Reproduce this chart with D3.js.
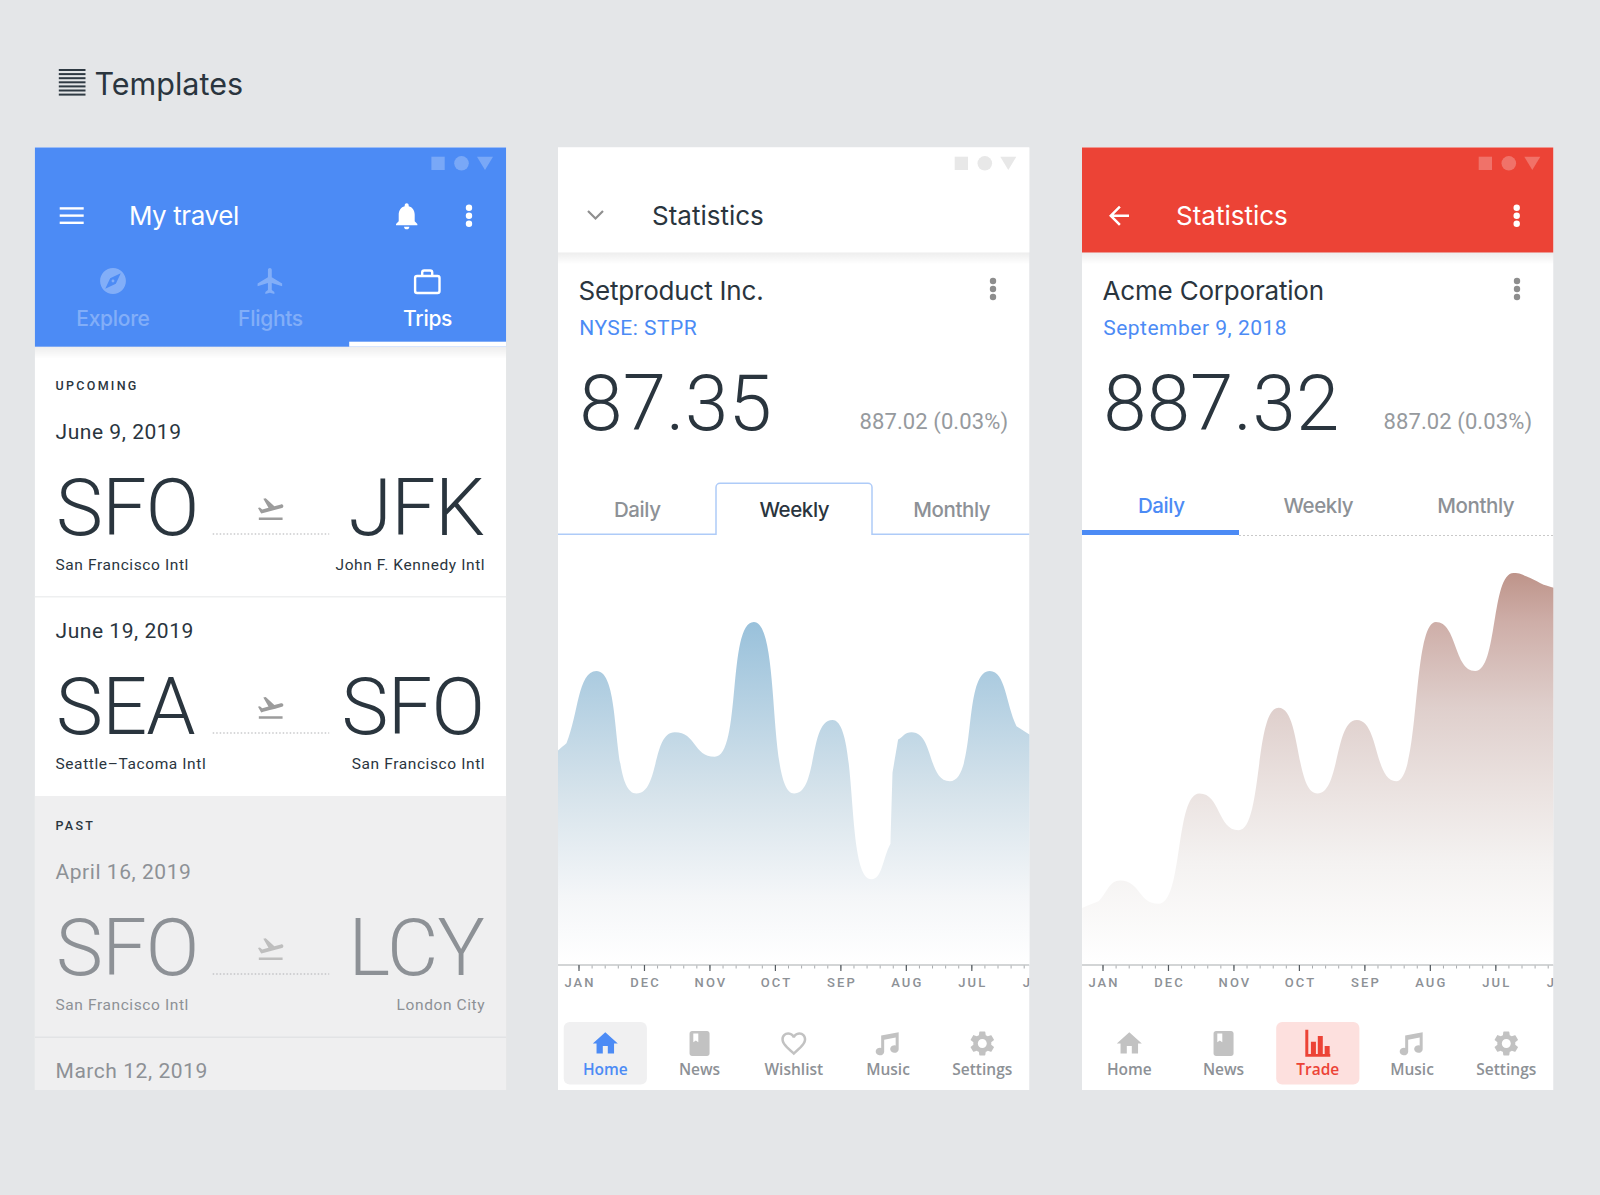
<!DOCTYPE html>
<html>
<head>
<meta charset="utf-8">
<script src="https://cdn.jsdelivr.net/npm/d3@7"></script>
<style>
  html, body { margin: 0; background: #e4e6e8; }
  svg { display: block; }
</style>
</head>
<body>
<div id="chart"></div>
<script>
const BLUE = "#4c8bf5";
const RED = "#ec4336";
const DARK = "#2a353e";
const GREY = "#8d9196";
const ICON_GREY = "#c2c2c2";
const HEAD = "Inter, sans-serif";
const BODY = "Roboto, sans-serif";
const NAV = "'Open Sans', sans-serif";

const months = ["JAN", "DEC", "NOV", "OCT", "SEP", "AUG", "JUL", "JUN"];

// position on the month axis (0 = JAN tick), value in chart units
const weeklyAt = [-0.316, -0.184, 0.274, 0.885, 1.471, 2.082, 2.678, 3.294, 3.879, 4.475, 4.765, 4.796, 4.882, 5.086, 5.671, 6.282, 6.69, 6.894];
const weeklyValues = [17.5, 18.1, 24, 14, 19, 17, 28, 14, 20, 7, 9.9, 15.7, 18.4, 19, 15, 24, 19.5, 18.8];
const dailyAt = [-0.31, -0.061, 0.27, 0.856, 1.482, 2.078, 2.689, 3.284, 3.885, 4.486, 5.092, 5.693, 6.279, 6.534, 6.738, 6.891];
const dailyValues = [4.66, 5.2, 6.9, 5, 14, 11, 21, 14, 20, 15, 28, 24, 32, 31.6, 31.05, 30.8];

const upcoming = [
    { date: "June 9, 2019", from: "SFO", to: "JFK", fromName: "San Francisco Intl", toName: "John F. Kennedy Intl" },
    { date: "June 19, 2019", from: "SEA", to: "SFO", fromName: "Seattle\u2013Tacoma Intl", toName: "San Francisco Intl" }
];
const past = { date: "April 16, 2019", from: "SFO", to: "LCY", fromName: "San Francisco Intl", toName: "London City" };

const icons = {
    bell: "M12 22c1.1 0 2-.9 2-2h-4c0 1.1.89 2 2 2zm6-6v-5c0-3.07-1.64-5.64-4.5-6.32V4c0-.83-.67-1.5-1.5-1.5s-1.5.67-1.5 1.5v.68C7.63 5.36 6 7.92 6 11v5l-2 2v1h16v-1l-2-2z",
    explore: "M12 10.9c-.61 0-1.1.49-1.1 1.1s.49 1.1 1.1 1.1c.61 0 1.1-.49 1.1-1.1s-.49-1.1-1.1-1.1zM12 2C6.48 2 2 6.48 2 12s4.48 10 10 10 10-4.48 10-10S17.52 2 12 2zm2.19 12.19L6 18l3.81-8.19L18 6l-3.81 8.19z",
    flight: "M21 16v-2l-8-5V3.5c0-.83-.67-1.5-1.5-1.5S10 2.67 10 3.5V9l-8 5v2l8-2.5V19l-2 1.5V22l3.5-1 3.5 1v-1.5L13 19v-5.5l8 2.5z",
    takeoff: "M2.5 19h19v2h-19zm19.57-9.36c-.21-.8-1.04-1.28-1.84-1.06L14.92 10l-6.9-6.43-1.93.51 4.14 7.17-4.97 1.33-1.97-1.54-1.45.39 1.82 3.16.77 1.33 1.6-.43 5.31-1.42 4.35-1.16L21 11.49c.81-.23 1.28-1.05 1.07-1.85z",
    home: "M10 20v-6h4v6h5v-8h3L12 3 2 12h3v8z",
    book: "M18 2H6c-1.1 0-2 .9-2 2v16c0 1.1.9 2 2 2h12c1.1 0 2-.9 2-2V4c0-1.1-.9-2-2-2zM7 4h4v7l-2-1.5L7 11V4z",
    heart: "M16.5 3c-1.74 0-3.41.81-4.5 2.09C10.91 3.81 9.24 3 7.5 3 4.42 3 2 5.42 2 8.5c0 3.78 3.4 6.86 8.55 11.54L12 21.35l1.45-1.32C18.6 15.36 22 12.28 22 8.5 22 5.42 19.58 3 16.5 3zm-4.4 15.55l-.1.1-.1-.1C7.14 14.24 4 11.39 4 8.5 4 6.5 5.5 5 7.5 5c1.54 0 3.04.99 3.57 2.36h1.87C13.46 5.99 14.96 5 16.5 5c2 0 3.5 1.5 3.5 3.5 0 2.89-3.14 5.74-7.9 10.05z",
    music: "M6.5 5.5 L20.5 3 V16.5 a3.4 3 0 1 1 -2.4 -2.9 V7.2 L8.9 8.9 V18.5 a3.4 3 0 1 1 -2.4 -2.9 Z",
    gear: "M19.14 12.94c.04-.3.06-.61.06-.94 0-.32-.02-.64-.07-.94l2.03-1.58c.18-.14.23-.41.12-.61l-1.92-3.32c-.12-.22-.37-.29-.59-.22l-2.39.96c-.5-.38-1.03-.7-1.62-.94L14.4 2.81c-.04-.24-.24-.41-.48-.41h-3.84c-.24 0-.43.17-.47.41L9.25 5.35c-.59.24-1.13.57-1.62.94l-2.39-.96c-.22-.08-.47 0-.59.22L2.74 8.87c-.12.21-.08.47.12.61l2.03 1.58c-.05.3-.09.63-.09.94s.02.64.07.94l-2.03 1.58c-.18.14-.23.41-.12.61l1.92 3.32c.12.22.37.29.59.22l2.39-.96c.5.38 1.03.7 1.62.94l.36 2.54c.05.24.24.41.48.41h3.84c.24 0 .44-.17.47-.41l.36-2.54c.59-.24 1.13-.56 1.62-.94l2.39.96c.22.08.47 0 .59-.22l1.92-3.32c.12-.22.07-.47-.12-.61l-2.01-1.58zM12 15.6c-1.98 0-3.6-1.62-3.6-3.6s1.62-3.6 3.6-3.6 3.6 1.62 3.6 3.6-1.62 3.6-3.6 3.6z",
    bars: "M2 1h2.4v19.4H22v2.2H2z M6.5 10.5h4v10h-4z M12 6h4v14.5h-4z M17.5 14h4v6.5h-4z",
    back: "M20 11H7.83l5.59-5.59L12 4l-8 8 8 8 1.41-1.41L7.83 13H20v-2z"
};

const W = 1600, H = 1195;
const panelW = 471.5, panelTop = 147.3, panelBottom = 1090;
const panelX = [34.7, 558, 1082];

let svg = d3.select("#chart").append("svg").attr("width", W).attr("height", H);
svg.append("rect").attr("width", W).attr("height", H).attr("fill", "#e4e6e8");
let defs = svg.append("defs");

function gradient(id, stops) {
    let g = defs.append("linearGradient").attr("id", id)
        .attr("x1", 0).attr("x2", 0).attr("y1", 0).attr("y2", 1);
    stops.forEach(s => g.append("stop").attr("offset", s[0]).attr("stop-color", s[1]).attr("stop-opacity", s[2] === undefined ? 1 : s[2]));
}
gradient("shadow", [[0, "#000", 0.07], [1, "#000", 0]]);
gradient("blueFade", [[0, "#99c1db"], [0.5, "#d6e3eb"], [0.8, "#f4f6f8"], [1, "#ffffff"]]);
gradient("redFade", [[0, "#be948a"], [0.126, "#ceaea8"], [0.343, "#dfcfcc"], [0.56, "#ebe3e1"], [0.74, "#f4f2f1"], [1, "#ffffff"]]);

function label(g, x, y, str, o) {
    return g.append("text")
        .attr("x", x).attr("y", y)
        .attr("text-anchor", o.anchor || "start")
        .attr("fill", o.fill || DARK)
        .attr("opacity", o.opacity === undefined ? 1 : o.opacity)
        .style("font-family", o.font || BODY)
        .style("font-size", o.size + "px")
        .style("font-weight", o.weight || 400)
        .style("letter-spacing", (o.ls || 0) + "px")
        .text(str);
}

function icon(g, d, cx, cy, size, fill, opacity) {
    let k = size / 24;
    return g.append("path")
        .attr("d", d)
        .attr("transform", `translate(${cx - size / 2},${cy - size / 2}) scale(${k})`)
        .attr("fill", fill)
        .attr("opacity", opacity === undefined ? 1 : opacity);
}

function kebab(g, x, y, fill) {
    [-8, 0, 8].forEach(d => g.append("circle").attr("cx", x).attr("cy", y + d).attr("r", 3.2).attr("fill", fill));
}

function statusIcons(g, fill, opacity) {
    let s = g.append("g").attr("fill", fill).attr("opacity", opacity);
    s.append("rect").attr("x", 396.7).attr("y", panelTop + 9.4).attr("width", 13.3).attr("height", 13.3);
    s.append("circle").attr("cx", 426.8).attr("cy", panelTop + 16).attr("r", 7.3);
    s.append("path").attr("d", `M442.3 ${panelTop + 9.4}h16l-8 13.3z`);
}

function panel(i) {
    let g = svg.append("g").attr("transform", `translate(${panelX[i]},0)`);
    let clipId = "panel" + i;
    defs.append("clipPath").attr("id", clipId).append("rect")
        .attr("y", panelTop).attr("width", panelW).attr("height", panelBottom - panelTop);
    g.attr("clip-path", `url(#${clipId})`);
    g.append("rect").attr("y", panelTop).attr("width", panelW).attr("height", panelBottom - panelTop).attr("fill", "white");
    return g;
}

function drawTravel(g) {
    // header
    let barBottom = 346.7;
    g.append("rect").attr("y", panelTop).attr("width", panelW).attr("height", barBottom - panelTop).attr("fill", BLUE);
    g.append("rect").attr("y", barBottom).attr("width", panelW).attr("height", 12).attr("fill", "url(#shadow)");
    statusIcons(g, "white", 0.25);
    [208.4, 215.6, 222.8].forEach(y => g.append("rect").attr("x", 25).attr("y", y - 1.2).attr("width", 24).attr("height", 2.4).attr("fill", "white"));
    label(g, 94.2, 225, "My travel", { font: HEAD, size: 26, fill: "white", ls: -0.4 });
    icon(g, icons.bell, 372, 216, 32, "white");
    kebab(g, 434.3, 215.7, "white");

    let tabs = [["Explore", 78.3, 0.3], ["Flights", 235.8, 0.3], ["Trips", 392.9, 1]];
    tabs.forEach(t => {
        label(g, t[1], 325.7, t[0], { font: HEAD, size: 21, fill: "white", opacity: t[2], anchor: "middle", weight: 500, ls: -0.3 });
    });
    icon(g, icons.explore, 78.3, 281, 31, "white", 0.3);
    icon(g, icons.flight, 235.8, 281, 31, "white", 0.3);
    let bag = g.append("g").attr("fill", "none").attr("stroke", "white").attr("stroke-width", 2.4);
    bag.append("rect").attr("x", 380.4).attr("y", 276).attr("width", 24.4).attr("height", 17).attr("rx", 2);
    bag.append("path").attr("d", "M387.5 276v-3.5a2 2 0 0 1 2-2h6a2 2 0 0 1 2 2v3.5");
    g.append("rect").attr("x", 314.5).attr("y", 341.7).attr("width", panelW - 314.5).attr("height", 5).attr("fill", "white");

    // lists
    g.append("rect").attr("y", 796).attr("width", panelW).attr("height", panelBottom - 796).attr("fill", "#efeff0");
    label(g, 20.8, 389.5, "UPCOMING", { size: 12.5, weight: 500, ls: 2.3 });
    flight(g, upcoming[0], 439, 535, 570, 508.7, DARK, 1);
    g.append("rect").attr("y", 596).attr("width", panelW).attr("height", 1.5).attr("fill", "#eeeff0");
    flight(g, upcoming[1], 638.2, 734, 769.4, 707.5, DARK, 1);
    label(g, 20.8, 830, "PAST", { size: 12.5, weight: 500, ls: 2.3 });
    flight(g, past, 879.2, 975, 1009.8, 948.7, GREY, 0.6);
    g.append("rect").attr("y", 1036.5).attr("width", panelW).attr("height", 1.5).attr("fill", "#e2e3e5");
    label(g, 20.8, 1077.7, "March 12, 2019", { size: 21, fill: GREY, ls: 0.55 });
}

function flight(g, d, dateY, codeY, nameY, iconY, fill, iconOpacity) {
    label(g, 20.8, dateY, d.date, { size: 21, fill: fill, ls: 0.55 });
    label(g, 21.3, codeY, d.from, { size: 79, weight: 300, fill: fill, ls: -0.7 });
    label(g, 449.5, codeY, d.to, { size: 79, weight: 300, fill: fill, ls: -0.7, anchor: "end" });
    label(g, 20.8, nameY, d.fromName, { size: 15.5, fill: fill, ls: 0.6 });
    label(g, 450.5, nameY, d.toName, { size: 15.5, fill: fill, ls: 0.6, anchor: "end" });
    g.append("line").attr("x1", 178).attr("x2", 294.5).attr("y1", codeY - 1).attr("y2", codeY - 1)
        .attr("stroke", "#aeb0b2").attr("stroke-width", 1.2).attr("stroke-dasharray", "1.5,2");
    icon(g, icons.takeoff, 236, iconY, 30, "#9c9c9c", iconOpacity);
}

// tangents follow the secant except at local peaks and troughs, where they go flat;
// tension sets how far a flat tangent reaches, small swings stay softer than big ones
function peakCurve(tension) {
    return function(context) {
        let pts = [], line = NaN;
        return {
            areaStart() { line = 0; },
            areaEnd() { line = NaN; },
            lineStart() { pts = []; },
            point(x, y) { pts.push([+x, +y]); },
            lineEnd() {
                let n = pts.length;
                if (line) context.lineTo(pts[0][0], pts[0][1]);
                else context.moveTo(pts[0][0], pts[0][1]);
                let isPeak = i => i > 0 && i < n - 1 && (pts[i][1] - pts[i - 1][1]) * (pts[i + 1][1] - pts[i][1]) <= 0;
                for (let i = 0; i < n - 1; i++) {
                    let a = pts[i], b = pts[i + 1];
                    let dx = b[0] - a[0], dy = b[1] - a[1];
                    let t = 0.5 + (tension - 0.5) * Math.min(1, Math.abs(dy) / 110);
                    let p0 = isPeak(i), p1 = isPeak(i + 1);
                    let h0 = dx * (p0 ? t : 0.4), h1 = dx * (p1 ? t : 0.4);
                    context.bezierCurveTo(
                        a[0] + h0, a[1] + (p0 ? 0 : dy / dx * h0),
                        b[0] - h1, b[1] - (p1 ? 0 : dy / dx * h1),
                        b[0], b[1]);
                }
                if (line) context.closePath();
                line = 1 - line;
            }
        };
    };
}

function drawChart(g, at, values, fill, tension) {
    let y0 = 965;
    let x = d3.scaleLinear().domain([0, 7]).range([20.5, 20.5 + 7 * 65.47]);
    let y = d3.scaleLinear().domain([0, 32]).range([y0, y0 - 32 * 12.25]);
    let area = d3.area()
        .x((d, i) => x(at[i]))
        .y0(y0)
        .y1(d => y(d))
        .curve(peakCurve(tension));
    g.append("path").datum(values).attr("d", area).attr("fill", `url(#${fill})`);

    // minor ticks under the major ones
    let minor = g.append("g").attr("transform", `translate(0,${y0})`)
        .call(d3.axisBottom(x).tickValues(d3.range(0, 7.2, 0.2)).tickSize(3.5).tickFormat(""));
    minor.select(".domain").remove();
    minor.selectAll("line").attr("stroke", "#a9acaf").attr("stroke-width", 1);

    let axis = g.append("g").attr("transform", `translate(0,${y0})`)
        .call(d3.axisBottom(x).tickValues(d3.range(8)).tickSize(6).tickPadding(7).tickFormat(i => months[i]));
    axis.select(".domain").attr("d", `M0,0H${panelW}`).attr("stroke", "#c5c7c9").attr("stroke-width", 1.6);
    axis.selectAll("line").attr("stroke", "#555b60").attr("stroke-width", 1.2);
    axis.selectAll("text")
        .attr("dx", 1)
        .attr("fill", GREY)
        .style("font-family", BODY)
        .style("font-size", "13px")
        .style("font-weight", 500)
        .style("letter-spacing", "2.1px");
}

function drawNav(g, items, activeIndex, activeFill, activeBg) {
    let x = d3.scalePoint().domain(d3.range(items.length)).range([47.3, 424.3]);
    g.append("rect")
        .attr("x", x(activeIndex) - 41.6).attr("y", 1022)
        .attr("width", 83.2).attr("height", 62.6).attr("rx", 6).attr("fill", activeBg);
    items.forEach((it, i) => {
        let on = i === activeIndex;
        icon(g, icons[it[1]], x(i), 1043.5, 30, on ? activeFill : ICON_GREY);
        label(g, x(i), 1074.6, it[0], { font: NAV, size: 15.5, weight: 600, fill: on ? activeFill : GREY, anchor: "middle" });
    });
}

function drawStats(g, o) {
    let barBottom = 252.5;
    g.append("rect").attr("y", panelTop).attr("width", panelW).attr("height", barBottom - panelTop).attr("fill", o.barFill);
    g.append("rect").attr("y", barBottom).attr("width", panelW).attr("height", 12).attr("fill", "url(#shadow)");
    statusIcons(g, o.statusFill, o.statusOpacity);
    label(g, 94, 225, "Statistics", { font: HEAD, size: 26, fill: o.titleFill, ls: 0 });
    label(g, 20.6, 300, o.company, { font: HEAD, size: 26, ls: -0.2 });
    label(g, 21.2, 335, o.sub, { size: 21, fill: BLUE, ls: 0.5 });
    kebab(g, 435, 289, "#8d8d8d");
    label(g, 21.2, 430, o.price, { size: 78, weight: 300, ls: 0.2 });
    label(g, 450.2, 429.3, "887.02 (0.03%)", { size: 22, fill: "#969a9e", anchor: "end", weight: 400, ls: 0.1 });
}

function tabLabels(g, y, active, activeFill) {
    ["Daily", "Weekly", "Monthly"].forEach((t, i) => {
        label(g, [79.3, 236.3, 393.7][i], y, t, { font: HEAD, size: 20.5, weight: 500, anchor: "middle", ls: -0.4, fill: i === active ? activeFill : GREY });
    });
}

// panels
drawTravel(panel(0));

let weekly = panel(1);
drawStats(weekly, { barFill: "white", titleFill: DARK, statusFill: "#e8e8e8", statusOpacity: 1, company: "Setproduct Inc.", sub: "NYSE: STPR", price: "87.35" });
weekly.append("path").attr("d", "M30 211l7.5 7.5l7.5-7.5").attr("fill", "none").attr("stroke", "#8f8f8f").attr("stroke-width", 2.2);
weekly.append("path")
    .attr("d", `M0 534.3H158V487.3a4 4 0 0 1 4-4H310a4 4 0 0 1 4 4V534.3H${panelW}`)
    .attr("fill", "none").attr("stroke", "#aecbf8").attr("stroke-width", 1.5);
tabLabels(weekly, 516.7, 1, DARK);
drawChart(weekly, weeklyAt, weeklyValues, "blueFade", 0.68);
drawNav(weekly, [["Home", "home"], ["News", "book"], ["Wishlist", "heart"], ["Music", "music"], ["Settings", "gear"]], 0, BLUE, "#f0f0f1");

let daily = panel(2);
drawStats(daily, { barFill: RED, titleFill: "white", statusFill: "white", statusOpacity: 0.25, company: "Acme Corporation", sub: "September 9, 2018", price: "887.32" });
icon(daily, icons.back, 37, 215.7, 30, "white");
kebab(daily, 434.7, 215.7, "white");
daily.append("rect").attr("y", 530).attr("width", 157).attr("height", 5).attr("fill", BLUE);
daily.append("line").attr("x1", 157).attr("x2", panelW).attr("y1", 535.5).attr("y2", 535.5)
    .attr("stroke", "#c9c9c9").attr("stroke-width", 1).attr("stroke-dasharray", "2,2");
tabLabels(daily, 512.7, 0, BLUE);
drawChart(daily, dailyAt, dailyValues, "redFade", 0.6);
drawNav(daily, [["Home", "home"], ["News", "book"], ["Trade", "bars"], ["Music", "music"], ["Settings", "gear"]], 2, RED, "#fde0de");

// page title
label(svg, 94.5, 95.2, "Templates", { font: HEAD, size: 30.5, ls: 0 });
d3.range(7).forEach(i => svg.append("rect").attr("x", 58.8).attr("y", 69 + i * 4.1).attr("width", 26.7).attr("height", 2).attr("fill", "#2f3a43"));
</script>
</body>
</html>
